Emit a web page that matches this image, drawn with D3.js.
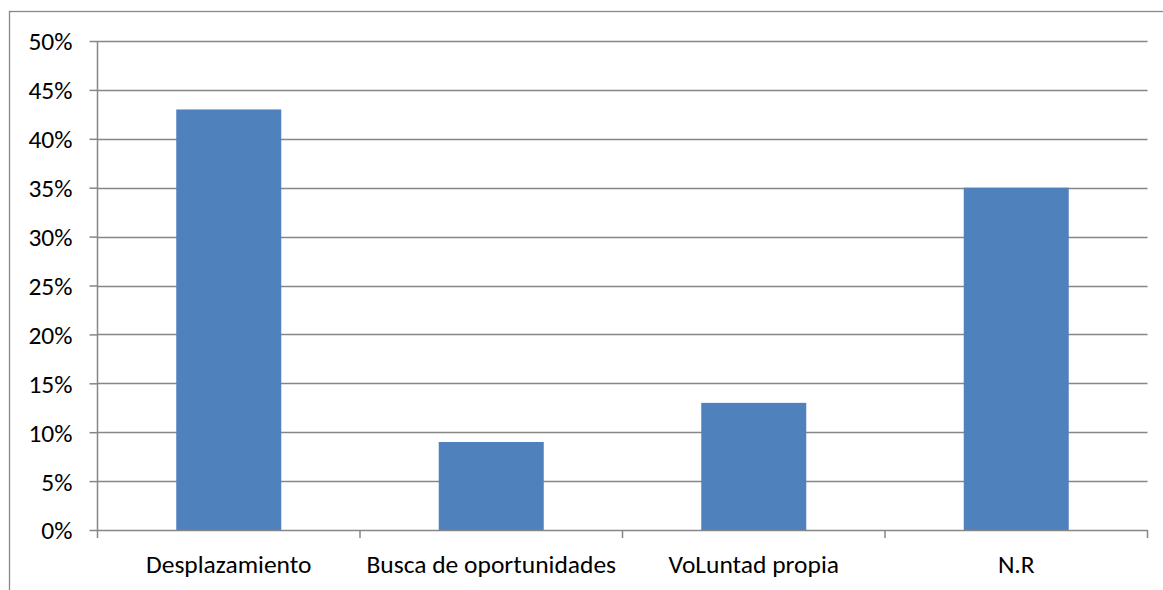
<!DOCTYPE html>
<html><head><meta charset="utf-8">
<script src="https://cdn.jsdelivr.net/npm/d3@7"></script>
<style>
html,body{margin:0;padding:0;background:#fff;}
svg{display:block;}
text{font-family:Carlito,Calibri,Lato,"Open Sans",sans-serif;fill:#000;}
</style></head><body>
<svg id="c" width="1163" height="590"></svg>
<script>
const categories = ["Desplazamiento","Busca de oportunidades","VoLuntad propia","N.R"];
const values = [0.43, 0.09, 0.13, 0.35];
const yTicks = [0,0.05,0.10,0.15,0.20,0.25,0.30,0.35,0.40,0.45,0.50];
const yTickLabels = ["0%","5%","10%","15%","20%","25%","30%","35%","40%","45%","50%"];

const svg = d3.select("#c");
const L = 97.5, R = 1147.5, T = 41, B = 530;
const fs = 25.5;

// outer border
svg.append("rect").attr("x",9.5).attr("y",11.5).attr("width",1200).attr("height",700)
  .attr("fill","#fff").attr("stroke","#888").attr("stroke-width",1.3);

const x = d3.scaleBand().domain(categories).range([L,R]).paddingInner(0.6).paddingOuter(0.3);
const y = d3.scaleLinear().domain([0,0.5]).range([B,T]);

// gridlines
svg.append("g").selectAll("line").data(yTicks.filter(d=>d>0)).join("line")
  .attr("x1",L).attr("x2",R).attr("y1",d=>Math.round(y(d))+0.5).attr("y2",d=>Math.round(y(d))+0.5)
  .attr("stroke","#868686").attr("stroke-width",1.5);

// bars
svg.append("g").selectAll("rect").data(values).join("rect")
  .attr("x",(d,i)=>x(categories[i])).attr("width",x.bandwidth())
  .attr("y",d=>y(d)).attr("height",d=>y(0)-y(d))
  .attr("fill","#4F81BD");

// y axis
const yAxis = d3.axisLeft(y).tickValues(yTicks).tickFormat((d,i)=>yTickLabels[i]).tickSize(8).tickPadding(17);
const gy = svg.append("g").attr("transform",`translate(${L},0)`).call(yAxis);
gy.select(".domain").attr("stroke","#868686").attr("stroke-width",1.5).attr("d",`M0,${T}V${B}`);
gy.selectAll(".tick line").attr("stroke","#868686").attr("stroke-width",1.5);
gy.selectAll(".tick text").attr("font-size",fs).attr("font-family",null).attr("dy","0.35em");

// x axis
const xg = svg.append("g");
xg.append("line").attr("x1",L).attr("x2",R).attr("y1",B+0.5).attr("y2",B+0.5).attr("stroke","#868686").attr("stroke-width",1.5);
const bounds = d3.range(categories.length+1).map(i=>L + i*x.step());
xg.selectAll("line.t").data(bounds).join("line").attr("class","t")
  .attr("x1",d=>d).attr("x2",d=>d).attr("y1",B).attr("y2",B+8).attr("stroke","#868686").attr("stroke-width",1.5);
xg.selectAll("text").data(categories).join("text")
  .attr("x",d=>x(d)+x.bandwidth()/2).attr("y",573).attr("text-anchor","middle")
  .attr("font-size",fs).text(d=>d);
</script>
</body></html>
